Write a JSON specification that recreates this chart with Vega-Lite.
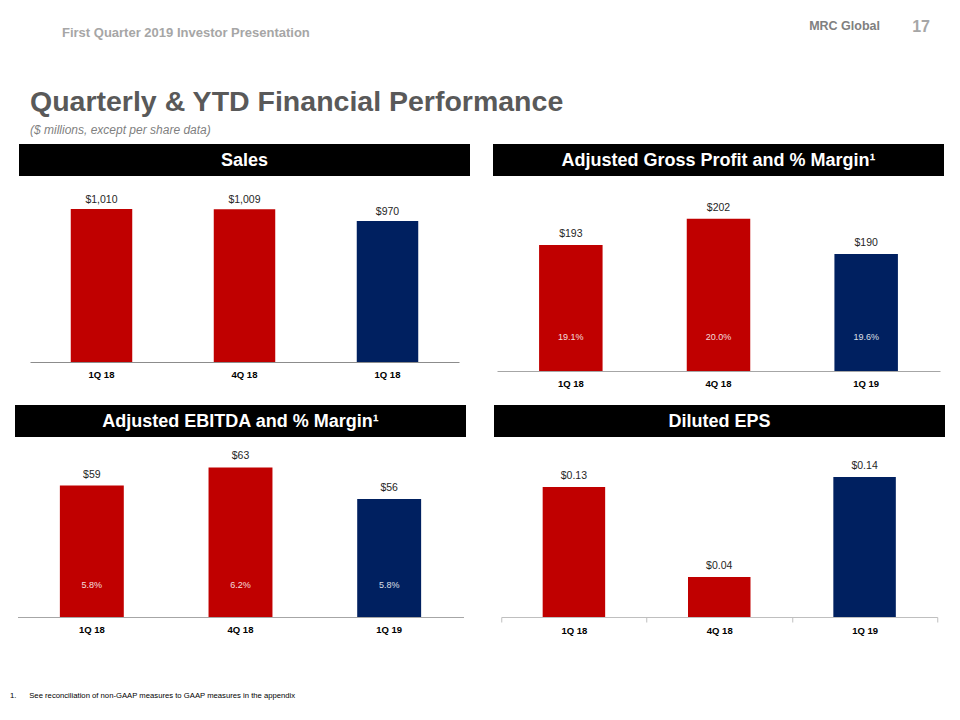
{
  "$schema": "https://vega.github.io/schema/vega-lite/v6.json",
  "background": "white",
  "padding": {"left": 10, "top": 19, "right": 0, "bottom": 0},
  "spacing": 0,
  "config": {
    "view": {"stroke": null},
    "font": "Liberation Sans",
    "title": {"offset": 0},
    "axisX": {"title": null, "labelAngle": 0, "ticks": false, "domainColor": "#A6A6A6", "domainWidth": 1, "labelFont": "Liberation Sans", "labelFontWeight": "bold", "labelFontSize": 9.5, "labelColor": "#000000", "labelPadding": 7}
  },
  "vconcat": [
    {
      "spacing": 0,
      "hconcat": [
        {"width": 770, "height": 1, "data": {"values": []}, "mark": "text",
         "title": {"text": "First Quarter 2019 Investor Presentation", "anchor": "start", "frame": "group", "dx": 52, "fontSize": 13, "fontWeight": "bold", "color": "#A6A6A6", "offset": 47.5}},
        {"width": 100, "height": 1, "data": {"values": []}, "mark": "text",
         "title": {"text": "MRC Global", "anchor": "end", "frame": "group", "fontSize": 12.5, "fontWeight": "bold", "color": "#808080", "offset": 54.75}},
        {"width": 50, "height": 1, "data": {"values": []}, "mark": "text",
         "title": {"text": "17", "anchor": "end", "frame": "group", "fontSize": 16, "fontWeight": "bold", "color": "#A6A6A6", "offset": 52}}
      ]
    },
    {"width": 920, "height": 1, "data": {"values": []}, "mark": "text",
     "title": {"text": "Quarterly & YTD Financial Performance", "subtitle": "\u00a0\u00a0($ millions, except per share data)", "anchor": "start", "frame": "group", "dx": 20, "fontSize": 28.5, "fontWeight": "bold", "color": "#595959", "subtitleFontStyle": "italic", "subtitleFontSize": 12, "subtitleColor": "#7F7F7F", "subtitlePadding": 8.5, "offset": 7}},
    {
      "spacing": 0,
      "hconcat": [
        {"width": 9, "height": 1, "data": {"values": []}, "mark": "text"},
        {
          "spacing": 0, "center": true,
          "vconcat": [
            {"width": 451, "height": 32, "view": {"fill": "#000000", "stroke": null}, "data": {"values": [{"banner": "Sales"}]},
             "mark": {"type": "text", "color": "#FFFFFF", "fontSize": 18, "fontWeight": "bold", "dy": 1},
             "encoding": {"text": {"field": "banner"}}},
            {
              "width": 429, "height": 186,
              "data": {"values": [
                {"quarter": "1Q 18", "sales": 1010, "period": "prior"},
                {"quarter": "4Q 18", "sales": 1009, "period": "prior"},
                {"quarter": "1Q 18 ", "sales": 970, "period": "current"}
              ]},
              "encoding": {
                "x": {"field": "quarter", "type": "nominal", "sort": null, "scale": {"paddingInner": 0.57, "paddingOuter": 0.285}, "axis": {"domainColor": "#8C8C8C"}},
                "y": {"field": "sales", "type": "quantitative", "scale": {"domain": [500, 1120], "zero": false}, "axis": null}
              },
              "layer": [
                {"mark": {"type": "bar"}, "encoding": {"y2": {"datum": 500}, "color": {"field": "period", "type": "nominal", "scale": {"domain": ["prior", "current"], "range": ["#C00000", "#002060"]}, "legend": null}}},
                {"mark": {"type": "text", "baseline": "bottom", "dy": -4, "fontSize": 10.5, "color": "#262626"}, "encoding": {"text": {"field": "sales", "type": "quantitative", "format": "$,.0f"}}}
              ]
            }
          ]
        },
        {"width": 23, "height": 1, "data": {"values": []}, "mark": "text"},
        {
          "spacing": 0, "center": true,
          "vconcat": [
            {"width": 451, "height": 32, "view": {"fill": "#000000", "stroke": null}, "data": {"values": [{"banner": "Adjusted Gross Profit and % Margin\u00b9"}]},
             "mark": {"type": "text", "color": "#FFFFFF", "fontSize": 18, "fontWeight": "bold", "dy": 1},
             "encoding": {"text": {"field": "banner"}}},
            {
              "width": 443, "height": 195,
              "data": {"values": [
                {"quarter": "1Q 18", "profit": 193, "margin": 0.191, "period": "prior"},
                {"quarter": "4Q 18", "profit": 202, "margin": 0.200, "period": "prior"},
                {"quarter": "1Q 19", "profit": 190, "margin": 0.196, "period": "current"}
              ]},
              "encoding": {
                "x": {"field": "quarter", "type": "nominal", "sort": null, "scale": {"paddingInner": 0.57, "paddingOuter": 0.285}, "axis": {"minExtent": 34}},
                "y": {"field": "profit", "type": "quantitative", "scale": {"domain": [150, 216.6], "zero": false}, "axis": null}
              },
              "layer": [
                {"mark": {"type": "bar"}, "encoding": {"y2": {"datum": 150}, "color": {"field": "period", "type": "nominal", "scale": {"domain": ["prior", "current"], "range": ["#C00000", "#002060"]}, "legend": null}}},
                {"mark": {"type": "text", "baseline": "bottom", "dy": -6, "fontSize": 10.5, "color": "#262626"}, "encoding": {"text": {"field": "profit", "type": "quantitative", "format": "$,.0f"}}},
                {"mark": {"type": "text", "baseline": "middle", "dy": -34, "fontSize": 9, "color": "#FFFFFF", "opacity": 0.85}, "encoding": {"y": {"datum": 150}, "text": {"field": "margin", "type": "quantitative", "format": ".1%"}}}
              ]
            }
          ]
        }
      ]
    },
    {
      "spacing": 0,
      "hconcat": [
        {"width": 4.5, "height": 1, "data": {"values": []}, "mark": "text"},
        {
          "spacing": 0, "center": true,
          "vconcat": [
            {"width": 451, "height": 32, "view": {"fill": "#000000", "stroke": null}, "data": {"values": [{"banner": "Adjusted EBITDA and % Margin\u00b9"}]},
             "mark": {"type": "text", "color": "#FFFFFF", "fontSize": 18, "fontWeight": "bold", "dy": 1},
             "encoding": {"text": {"field": "banner"}}},
            {
              "width": 446, "height": 180,
              "data": {"values": [
                {"quarter": "1Q 18", "ebitda": 59, "margin": 0.058, "period": "prior"},
                {"quarter": "4Q 18", "ebitda": 63, "margin": 0.062, "period": "prior"},
                {"quarter": "1Q 19", "ebitda": 56, "margin": 0.058, "period": "current"}
              ]},
              "encoding": {
                "x": {"field": "quarter", "type": "nominal", "sort": null, "scale": {"paddingInner": 0.57, "paddingOuter": 0.285}, "axis": {"minExtent": 75}},
                "y": {"field": "ebitda", "type": "quantitative", "scale": {"domain": [30, 69.7], "zero": false}, "axis": null}
              },
              "layer": [
                {"mark": {"type": "bar"}, "encoding": {"y2": {"datum": 30}, "color": {"field": "period", "type": "nominal", "scale": {"domain": ["prior", "current"], "range": ["#C00000", "#002060"]}, "legend": null}}},
                {"mark": {"type": "text", "baseline": "bottom", "dy": -6, "fontSize": 10.5, "color": "#262626"}, "encoding": {"text": {"field": "ebitda", "type": "quantitative", "format": "$,.0f"}}},
                {"mark": {"type": "text", "baseline": "middle", "dy": -32, "fontSize": 9, "color": "#FFFFFF", "opacity": 0.85}, "encoding": {"y": {"datum": 30}, "text": {"field": "margin", "type": "quantitative", "format": ".1%"}}}
              ]
            }
          ]
        },
        {"width": 28, "height": 1, "data": {"values": []}, "mark": "text"},
        {
          "spacing": 0, "center": true,
          "vconcat": [
            {"width": 451, "height": 32, "view": {"fill": "#000000", "stroke": null}, "data": {"values": [{"banner": "Diluted EPS"}]},
             "mark": {"type": "text", "color": "#FFFFFF", "fontSize": 18, "fontWeight": "bold", "dy": 1},
             "encoding": {"text": {"field": "banner"}}},
            {
              "width": 436, "height": 180,
              "data": {"values": [
                {"quarter": "1Q 18", "eps": 0.13, "period": "prior"},
                {"quarter": "4Q 18", "eps": 0.04, "period": "prior"},
                {"quarter": "1Q 19", "eps": 0.14, "period": "current"}
              ]},
              "encoding": {
                "x": {"field": "quarter", "type": "nominal", "sort": null, "scale": {"paddingInner": 0, "paddingOuter": 0}, "axis": {"ticks": true, "tickBand": "extent", "tickSize": 5, "tickColor": "#BFBFBF", "domainColor": "#BFBFBF", "labelPadding": 3, "minExtent": 75}},
                "y": {"field": "eps", "type": "quantitative", "scale": {"domain": [0, 0.18]}, "axis": null}
              },
              "layer": [
                {"mark": {"type": "bar", "width": {"band": 0.43}}, "encoding": {"color": {"field": "period", "type": "nominal", "scale": {"domain": ["prior", "current"], "range": ["#C00000", "#002060"]}, "legend": null}}},
                {"mark": {"type": "text", "baseline": "bottom", "dy": -6, "fontSize": 10.5, "color": "#262626"}, "encoding": {"text": {"field": "eps", "type": "quantitative", "format": "$.2f"}}}
              ]
            }
          ]
        }
      ]
    },
    {"width": 920, "height": 1, "data": {"values": []}, "mark": "text",
     "title": {"text": "1.\u00a0\u00a0\u00a0\u00a0\u00a0\u00a0See reconciliation of non-GAAP measures to GAAP measures in the appendix", "anchor": "start", "frame": "group", "fontSize": 7.7, "fontWeight": "normal", "color": "#000000", "offset": 0}}
  ]
}
